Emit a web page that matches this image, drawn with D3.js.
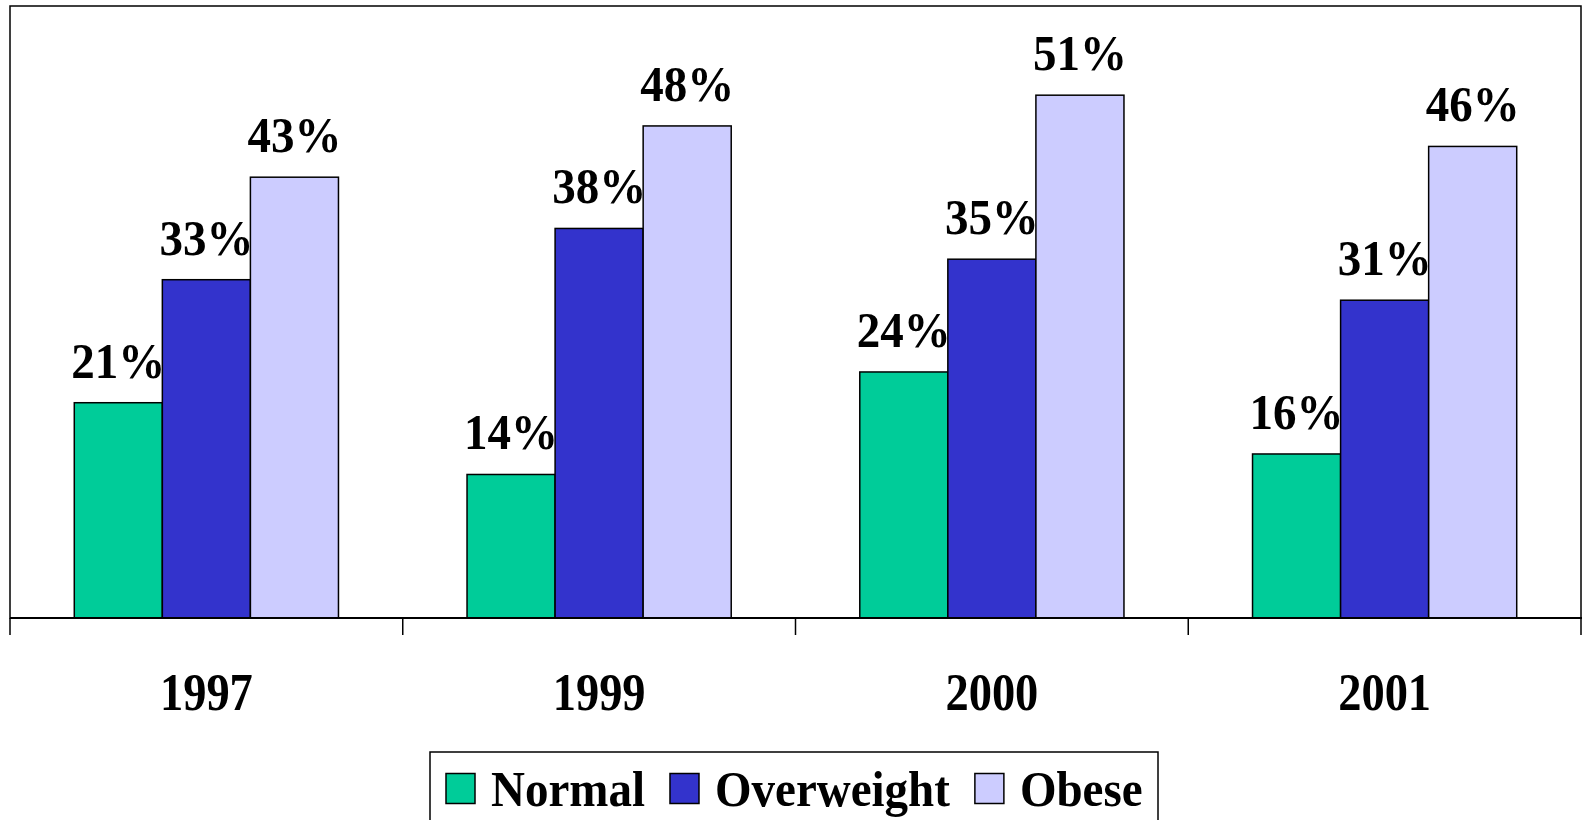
<!DOCTYPE html>
<html>
<head>
<meta charset="utf-8">
<script src="https://cdn.jsdelivr.net/npm/d3@7"></script>
<style>
  html, body { margin: 0; padding: 0; background: #fff; }
  svg { display: block; }
  text { font-family: "Liberation Serif", "Times New Roman", serif; font-weight: bold; fill: #000; }
</style>
</head>
<body>
<svg id="chart" width="1582" height="820"></svg>
<script>
// ---- data ----
const years = ["1997", "1999", "2000", "2001"];
const seriesNames = ["Normal", "Overweight", "Obese"];
const normal = [21, 14, 24, 16];
const overweight = [33, 38, 35, 31];
const obese = [43, 48, 51, 46];
const seriesColors = ["#00CC99", "#3333CC", "#CCCCFF"];

(function () {
const seriesValues = [normal, overweight, obese];
const rows = years.map((yr, i) => ({
  year: yr,
  values: seriesNames.map((s, j) => ({ series: s, idx: j, value: seriesValues[j][i] }))
}));

const svg = d3.select("#chart");
const pLeft = 10, pRight = 1581, pTop = 6, pBottom = 618;

const x0 = d3.scaleBand().domain(years).range([pLeft, pRight]).paddingInner(0).paddingOuter(0);
const x1 = d3.scaleBand().domain(seriesNames).range([0, x0.bandwidth()]).paddingInner(0).paddingOuter(0.73);
const y = d3.scaleLinear().domain([0, 59.7]).range([pBottom, pTop]);
const color = d3.scaleOrdinal().domain(seriesNames).range(seriesColors);

// plot frame
svg.append("rect")
  .attr("x", pLeft).attr("y", pTop)
  .attr("width", pRight - pLeft).attr("height", pBottom - pTop)
  .attr("fill", "none").attr("stroke", "#000").attr("stroke-width", 1.5);

// bars
const groups = svg.selectAll("g.grp").data(rows).enter().append("g")
  .attr("class", "grp")
  .attr("transform", d => `translate(${x0(d.year)},0)`);

groups.selectAll("rect").data(d => d.values).enter().append("rect")
  .attr("x", d => x1(d.series))
  .attr("y", d => y(d.value))
  .attr("width", x1.bandwidth())
  .attr("height", d => y(0) - y(d.value))
  .attr("fill", d => color(d.series))
  .attr("stroke", "#000").attr("stroke-width", 1.5);

// value labels
groups.selectAll("text.val").data(d => d.values).enter().append("text")
  .attr("class", "val")
  .attr("text-anchor", "middle")
  .attr("font-size", 47)
  .attr("transform", d => `translate(${x1(d.series) + x1.bandwidth() / 2},${y(d.value) - 25}) scale(1,1.06)`)
  .text(d => d.value + "%");

// baseline + category boundary ticks
svg.append("line")
  .attr("x1", pLeft).attr("x2", pRight + 1).attr("y1", pBottom).attr("y2", pBottom)
  .attr("stroke", "#000").attr("stroke-width", 2);
const boundaries = years.map(yr => x0(yr)).concat([x0(years[years.length - 1]) + x0.bandwidth()]);
svg.selectAll("line.tick").data(boundaries).enter().append("line")
  .attr("class", "tick")
  .attr("x1", d => d).attr("x2", d => d)
  .attr("y1", pBottom).attr("y2", pBottom + 17)
  .attr("stroke", "#000").attr("stroke-width", 1.5);

// category labels
svg.selectAll("text.cat").data(years).enter().append("text")
  .attr("class", "cat")
  .attr("text-anchor", "middle")
  .attr("font-size", 46.5)
  .attr("transform", d => `translate(${x0(d) + x0.bandwidth() / 2},710) scale(1,1.15)`)
  .text(d => d);

// legend
const legend = svg.append("g");
legend.append("rect")
  .attr("x", 430).attr("y", 752)
  .attr("width", 728).attr("height", 80)
  .attr("fill", "#fff").attr("stroke", "#000").attr("stroke-width", 1.5);

let lx = 446;
seriesNames.forEach((s) => {
  legend.append("rect")
    .attr("x", lx).attr("y", 773.5)
    .attr("width", 29).attr("height", 30)
    .attr("fill", color(s)).attr("stroke", "#000").attr("stroke-width", 1.5);
  const t = legend.append("text")
    .attr("font-size", 47)
    .attr("transform", `translate(${lx + 45},806) scale(1,1.06)`)
    .text(s);
  const w = t.node().getComputedTextLength();
  lx = lx + 45 + w + 25;
});
})();
</script>
</body>
</html>
